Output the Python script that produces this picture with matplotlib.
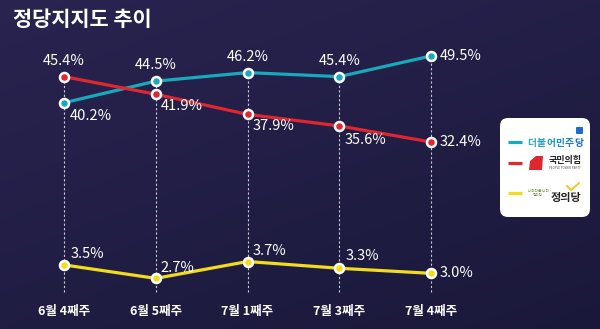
import numpy as np
import matplotlib.pyplot as plt
from matplotlib.patches import FancyBboxPatch, Polygon
from matplotlib.transforms import blended_transform_factory

plt.rcParams['font.family'] = ['Noto Sans CJK KR', 'DejaVu Sans']

weeks = ['6월 4째주', '6월 5째주', '7월 1째주', '7월 3째주', '7월 4째주']
minju = [40.2, 44.5, 46.2, 45.4, 49.5]
ppp = [45.4, 41.9, 37.9, 35.6, 32.4]
justice = [3.5, 2.7, 3.7, 3.3, 3.0]

c_minju = '#19a9bd'
c_ppp = '#e0262f'
c_justice = '#f2dc1c'

# label offsets in pixels (dx, dy, ha)
off_minju = [(6, -13, 'left'), (0, 16, 'center'), (0, 16, 'center'), (0, 16, 'center'), (9, 0, 'left')]
off_ppp = [(0, 16, 'center'), (5, -12, 'left'), (5, -12, 'left'), (5, -14, 'left'), (9, 0, 'left')]
off_justice = [(7, 11, 'left'), (5, 10, 'left'), (5, 11, 'left'), (6, 12, 'left'), (9, 0, 'left')]

W, H = 600, 329
fig = plt.figure(figsize=(W / 100, H / 100), dpi=100)

# background gradient
bg = fig.add_axes([0, 0, 1, 1])
bg.axis('off')
yy, xx = np.mgrid[0:1:200j, 0:1:300j]
t = np.clip(0.6 * yy + 0.4 * xx, 0, 1)
top = np.array([0x29, 0x24, 0x50]) / 255
bot = np.array([0x1a, 0x18, 0x3a]) / 255
img = top[None, None, :] * (1 - t[..., None]) + bot[None, None, :] * t[..., None]
bg.imshow(img, extent=[0, 1, 0, 1], aspect='auto', origin='upper')
bg.set_xlim(0, 1)
bg.set_ylim(0, 1)

x = np.arange(len(weeks))
xlim = (-64 / 91.75, 4 + (W - 431) / 91.75)

ax = fig.add_axes([0, 0, 1, 1], facecolor='none')
ax.axis('off')
ax.set_xlim(*xlim)
ax.set_ylim(-4.77, 60.63)

ax2 = fig.add_axes([0, 0, 1, 1], facecolor='none')
ax2.axis('off')
ax2.set_xlim(*xlim)
ax2.set_ylim(-0.3, 19.2)

# dashed guides from the upper point down to the week labels
low = ax.transData.inverted().transform(ax.transAxes.transform((0, 1 - 292 / H)))[1]
tops = np.maximum(minju, ppp)
ax.vlines(x, low, tops, colors='#c9c9d9', linewidth=0.8, linestyles=(0, (2, 2)), zorder=1)

def series(a, vals, color, offs):
    a.plot(x, vals, color=color, lw=2.3, zorder=3, solid_capstyle='round')
    a.plot(x, vals, 'o', ms=6.5, mfc=color, mec='white', mew=1.8, zorder=4)
    for xi, v, (dx, dy, ha) in zip(x, vals, offs):
        a.annotate(f'{v:.1f}%', (xi, v), xytext=(dx * 0.72, dy * 0.72), textcoords='offset points',
                   ha=ha, va='center', color='white', fontsize=10.5, zorder=5)

series(ax, minju, c_minju, off_minju)
series(ax, ppp, c_ppp, off_ppp)
series(ax2, justice, c_justice, off_justice)

tr = blended_transform_factory(ax.transData, ax.transAxes)
for xi, w in zip(x, weeks):
    ax.text(xi, 1 - 311 / H, w, transform=tr, ha='center', va='center',
            color='white', fontsize=9, fontweight='bold')

fig.text(13 / W, 1 - 20 / H, '정당지지도 추이', ha='left', va='center',
         color='white', fontsize=15, fontweight='bold')

# legend card in pixel coordinates
deco = fig.add_axes([0, 0, 1, 1], facecolor='none')
deco.axis('off')
deco.set_xlim(0, W)
deco.set_ylim(H, 0)
deco.add_patch(FancyBboxPatch((500, 118), 90, 99, boxstyle='round,pad=0,rounding_size=8',
                              fc='white', ec='none'))
for yv, c in [(142, c_minju), (163, c_ppp), (193, c_justice)]:
    deco.plot([508, 522], [yv, yv], color=c, lw=2.3, solid_capstyle='butt')

# 더불어민주당 wordmark
name = '더불어민주당'
c0 = np.array([0x1b, 0xb4, 0xc6]) / 255
c1 = np.array([0x1a, 0x6c, 0xd0]) / 255
for i, ch in enumerate(name):
    f = i / (len(name) - 1)
    deco.text(532 + i * 9.3, 143, ch, ha='center', va='center', fontsize=7,
              fontweight='bold', color=c0 * (1 - f) + c1 * f)
deco.add_patch(FancyBboxPatch((576, 127), 7, 7, boxstyle='round,pad=0,rounding_size=1',
                              fc='#1a6cd0', ec='none'))

# 국민의힘 wordmark
deco.add_patch(Polygon([(536, 156), (543, 156), (542, 170), (529, 170), (530, 161)],
                       closed=True, fc='#e0262f', ec='none'))
deco.text(565, 160, '국민의힘', ha='center', va='center', fontsize=6.5,
          fontweight='bold', color='#222222')
deco.text(565, 168, 'PEOPLE POWER PARTY', ha='center', va='center', fontsize=2.2,
          color='#555555')

# 정의당 wordmark
deco.text(566, 197, '정의당', ha='center', va='center', fontsize=8,
          fontweight='bold', color='#222222')
deco.plot([567, 571, 579], [186, 190, 183], color='#f2c81c', lw=1.4)
deco.text(538, 193, '나라다운 나라\n정의당', ha='center', va='center', fontsize=2.6,
          color='#6a8a3a', linespacing=1.0)

fig.savefig('out.png', dpi=100)
